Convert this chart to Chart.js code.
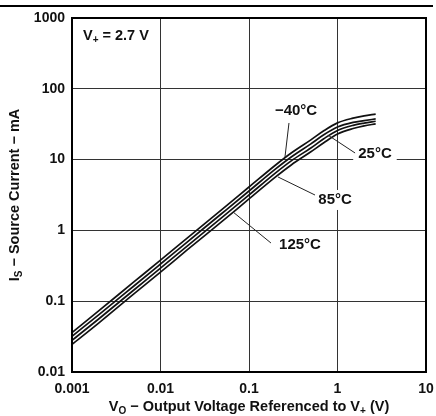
<!DOCTYPE html>
<html lang="en">
<head>
<meta charset="UTF-8">
<title>Source Current vs Output Voltage</title>
<script src="https://cdn.jsdelivr.net/npm/chart.js"></script>
<style>
    body { margin: 0; background: #fff; }
    canvas { display: block; }
</style>
</head>
<body>
<canvas id="chart" width="436" height="416"></canvas>
<script>
    // Output voltage referenced to V+ (V)
    const voltage = [0.001, 0.002, 0.005, 0.01, 0.02, 0.05, 0.1, 0.2, 0.3, 0.5, 0.7, 1, 1.5, 2, 2.7];
    // Source current (mA) per temperature
    const iMinus40 = [0.036, 0.073, 0.187, 0.38, 0.78, 2.0, 4.1, 8.4, 12.4, 19, 25.5, 33, 38.5, 41.5, 44];
    const i25 = [0.032, 0.064, 0.164, 0.335, 0.685, 1.76, 3.6, 7.4, 10.9, 16.7, 22.4, 28.8, 33.5, 35.5, 37.5];
    const i85 = [0.028, 0.056, 0.144, 0.293, 0.60, 1.54, 3.16, 6.5, 9.6, 14.6, 19.7, 25.8, 30.5, 32.8, 34.8];
    const i125 = [0.0245, 0.049, 0.127, 0.257, 0.53, 1.35, 2.78, 5.7, 8.4, 12.9, 17.3, 23, 27.5, 30, 32];

    const xTicks = [0.001, 0.01, 0.1, 1, 10];
    const xTickLabels = ['0.001', '0.01', '0.1', '1', '10'];
    const yTicks = [0.01, 0.1, 1, 10, 100, 1000];
    const yTickLabels = ['0.01', '0.1', '1', '10', '100', '1000'];

    // curve labels: text position and leader line (data coords)
    const curveLabels = [
        { text: '\u221240\u00b0C', at: [0.34, 48.6], from: [0.283, 32.9], to: [0.255, 10.9], box: false },
        { text: '25\u00b0C', at: [2.65, 12], from: [1.58, 12.4], to: [0.78, 22.2], box: true },
        { text: '85\u00b0C', at: [0.94, 2.69], from: [0.557, 3.16], to: [0.213, 5.68], box: true },
        { text: '125\u00b0C', at: [0.377, 0.622], from: [0.177, 0.664], to: [0.066, 1.82], box: false }
    ];

    const FAMILY = '"Liberation Sans", Arial, sans-serif';
    const FONT = 'bold 14.5px ' + FAMILY;
    const SUB_FONT = 'bold 10px ' + FAMILY;
    const LABEL_FONT = 'bold 15px ' + FAMILY;

    function makeSeries(values) {
        return voltage.map((v, i) => ({ x: v, y: values[i] }));
    }

    function curve(label, values) {
        return {
            label: label,
            data: makeSeries(values),
            borderColor: '#111',
            borderWidth: 1.7,
            pointRadius: 0,
            fill: false,
            cubicInterpolationMode: 'monotone'
        };
    }

    // text with subscript parts: [[text, isSub], ...]
    function richWidth(ctx, parts) {
        let w = 0;
        parts.forEach(p => {
            ctx.font = p[1] ? SUB_FONT : FONT;
            w += ctx.measureText(p[0]).width;
        });
        return w;
    }

    function drawRich(ctx, parts, x, y) {
        let cx = x;
        parts.forEach(p => {
            ctx.font = p[1] ? SUB_FONT : FONT;
            ctx.fillText(p[0], cx, p[1] ? y + 4 : y);
            cx += ctx.measureText(p[0]).width;
        });
    }

    const decorations = {
        id: 'decorations',
        afterDraw(chart) {
            const ctx = chart.ctx;
            const area = chart.chartArea;
            const xs = chart.scales.x;
            const ys = chart.scales.y;
            ctx.save();

            // header rule
            ctx.strokeStyle = '#000';
            ctx.lineWidth = 2;
            ctx.beginPath();
            ctx.moveTo(0, 6);
            ctx.lineTo(433, 6);
            ctx.stroke();

            // plot frame
            ctx.strokeRect(area.left, area.top, area.right - area.left, area.bottom - area.top);

            ctx.fillStyle = '#111';
            ctx.textBaseline = 'middle';

            // curve labels with leader lines
            curveLabels.forEach(l => {
                const tx = xs.getPixelForValue(l.at[0]);
                const ty = ys.getPixelForValue(l.at[1]);
                ctx.font = LABEL_FONT;
                const w = ctx.measureText(l.text).width;
                if (l.box) {
                    ctx.fillStyle = '#fff';
                    ctx.fillRect(tx - w / 2 - 5, ty - 10, w + 10, 20);
                    ctx.fillStyle = '#111';
                }
                ctx.strokeStyle = '#222';
                ctx.lineWidth = 1;
                ctx.beginPath();
                ctx.moveTo(xs.getPixelForValue(l.from[0]), ys.getPixelForValue(l.from[1]));
                ctx.lineTo(xs.getPixelForValue(l.to[0]), ys.getPixelForValue(l.to[1]));
                ctx.stroke();
                ctx.textAlign = 'center';
                ctx.fillText(l.text, tx, ty);
            });

            // supply label
            ctx.textAlign = 'left';
            drawRich(ctx, [['V', false], ['+', true], [' = 2.7 V', false]],
                xs.getPixelForValue(0.00133), ys.getPixelForValue(557));

            // x axis title
            const xt = [['V', false], ['O', true], [' \u2212 Output Voltage Referenced to V', false], ['+', true], [' (V)', false]];
            const xw = richWidth(ctx, xt);
            drawRich(ctx, xt, (area.left + area.right) / 2 - xw / 2, 407);

            // y axis title
            const yt = [['I', false], ['S', true], [' \u2212 Source Current \u2212 mA', false]];
            const yw = richWidth(ctx, yt);
            ctx.translate(15, (area.top + area.bottom) / 2);
            ctx.rotate(-Math.PI / 2);
            drawRich(ctx, yt, -yw / 2, 0);

            ctx.restore();
        }
    };

    const tickFont = { family: FAMILY, size: 14, weight: 'bold' };

    const ctx = document.getElementById('chart').getContext('2d');
    const chart = new Chart(ctx, {
        type: 'line',
        data: {
            datasets: [
                curve('-40°C', iMinus40),
                curve('25°C', i25),
                curve('85°C', i85),
                curve('125°C', i125)
            ]
        },
        options: {
            responsive: false,
            animation: false,
            layout: { padding: { left: 0, right: 10, top: 18, bottom: 0 } },
            plugins: {
                legend: { display: false },
                tooltip: { enabled: false }
            },
            scales: {
                x: {
                    type: 'logarithmic',
                    min: 0.001,
                    max: 10,
                    afterBuildTicks: s => { s.ticks = xTicks.map(v => ({ value: v })); },
                    afterFit: s => {
                        s.height = 44;
                        // let the end labels overhang the plot edges
                        s.paddingLeft = 0;
                        s.paddingRight = 0;
                    },
                    grid: { color: '#333', lineWidth: 1, drawTicks: false },
                    border: { color: '#000', width: 2 },
                    ticks: {
                        color: '#111',
                        font: tickFont,
                        padding: 9,
                        maxRotation: 0,
                        autoSkip: false,
                        callback: v => xTickLabels[xTicks.indexOf(v)]
                    }
                },
                y: {
                    type: 'logarithmic',
                    min: 0.01,
                    max: 1000,
                    afterBuildTicks: s => { s.ticks = yTicks.map(v => ({ value: v })); },
                    afterFit: s => {
                        s.width = 72;
                        s.paddingTop = 0;
                        s.paddingBottom = 0;
                    },
                    grid: { color: '#333', lineWidth: 1, drawTicks: false },
                    border: { color: '#000', width: 2 },
                    ticks: {
                        color: '#111',
                        font: tickFont,
                        padding: 7,
                        autoSkip: false,
                        callback: v => yTickLabels[yTicks.indexOf(v)]
                    }
                }
            }
        },
        plugins: [decorations]
    });
</script>
</body>
</html>
